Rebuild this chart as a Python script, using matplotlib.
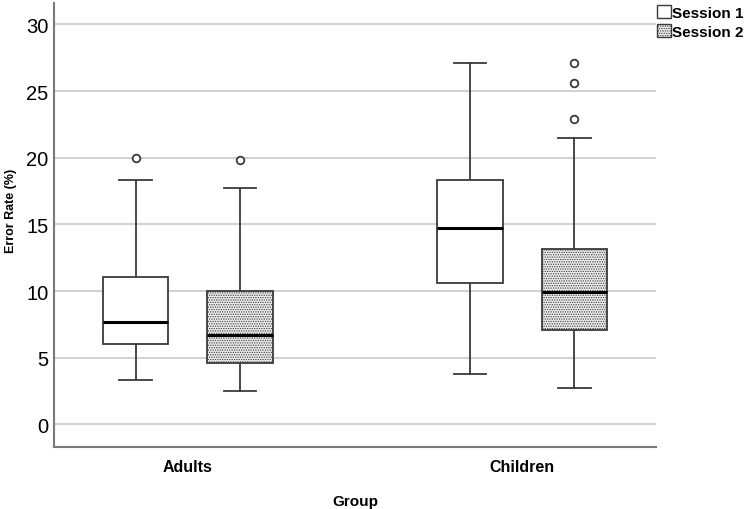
import matplotlib
matplotlib.use("Agg")
import matplotlib.pyplot as plt
from matplotlib.patches import Patch
import numpy as np

plt.rcParams['font.family'] = ['Liberation Sans', 'DejaVu Sans']
plt.rcParams['hatch.color'] = '#9a9a9a'
plt.rcParams['hatch.linewidth'] = 0.6

# values (Error Rate %)
groups = ["Adults", "Children"]
sessions = ["Session 1", "Session 2"]
# order: Adults S1, Adults S2, Children S1, Children S2
whislo = [3.35, 2.5, 3.75, 2.7]
q1 = [6.05, 4.6, 10.6, 7.1]
med = [7.7, 6.7, 14.7, 9.9]
q3 = [11.05, 10.0, 18.35, 13.15]
whishi = [18.35, 17.7, 27.1, 21.5]
fliers = [[20.0], [19.8], [], [22.9, 25.6, 27.1]]

yticks = [0, 5, 10, 15, 20, 25, 30]

fig = plt.figure(figsize=(7.5, 5.1), dpi=100)
ax = fig.add_axes([0.072, 0.122, 0.8027, 0.870])

stats = []
for i in range(4):
    stats.append({"med": med[i], "q1": q1[i], "q3": q3[i],
                  "whislo": whislo[i], "whishi": whishi[i],
                  "fliers": fliers[i]})

offset = 0.156
positions = []
for g in range(len(groups)):
    positions += [g - offset, g + offset]

bp = ax.bxp(stats, positions=positions, widths=0.195, patch_artist=True,
            showfliers=True,
            boxprops=dict(edgecolor='#3a3a3a', linewidth=1.3),
            medianprops=dict(color='black', linewidth=2.2),
            whiskerprops=dict(color='#3a3a3a', linewidth=1.3),
            capprops=dict(color='#3a3a3a', linewidth=1.3),
            capwidths=0.0975,
            flierprops=dict(marker='o', markersize=5.5, markerfacecolor='white',
                            markeredgecolor='#3a3a3a', markeredgewidth=1.3))

for i, box in enumerate(bp['boxes']):
    if i % 2 == 0:
        box.set_facecolor('white')
    else:
        box.set_facecolor('#ececec')
        box.set_hatch('.......')
    box.set_zorder(3)
for m in bp['medians']:
    m.set_zorder(4)

ax.set_xlim(-0.40, 1.40)
ax.set_ylim(-1.68, 31.6)
ax.set_yticks(yticks)
ax.set_yticklabels([str(t) for t in yticks], fontsize=14.5)
ax.set_xticks(range(len(groups)))
ax.set_xticklabels(groups, fontsize=11.5, fontweight='bold')
ax.tick_params(axis='x', length=0, pad=9)
ax.tick_params(axis='y', length=0, pad=4)

ax.yaxis.grid(True, color='#d2d2d2', linewidth=1.5)
ax.set_axisbelow(True)
for s in ['top', 'right']:
    ax.spines[s].set_visible(False)
for s in ['left', 'bottom']:
    ax.spines[s].set_color('#7a7a7a')
    ax.spines[s].set_linewidth(1.5)

ax.set_ylabel("Error Rate (%)", fontsize=9, fontweight='bold')
ax.yaxis.set_label_coords(-0.062, 0.533)
ax.set_xlabel("Group", fontsize=11, fontweight='bold', labelpad=14)

handles = [Patch(facecolor='white', edgecolor='#3a3a3a', label=sessions[0]),
           Patch(facecolor='#ececec', edgecolor='#3a3a3a', hatch='.......', label=sessions[1])]
leg = fig.legend(handles=handles, loc='upper left', bbox_to_anchor=(657 / 750, 1 - 6 / 510),
                 frameon=False, prop={'size': 11, 'weight': 'bold'},
                 handlelength=0.9, handleheight=0.9, handletextpad=0.08,
                 labelspacing=0.3, borderpad=0, borderaxespad=0)

fig.savefig("out.png", dpi=100)
